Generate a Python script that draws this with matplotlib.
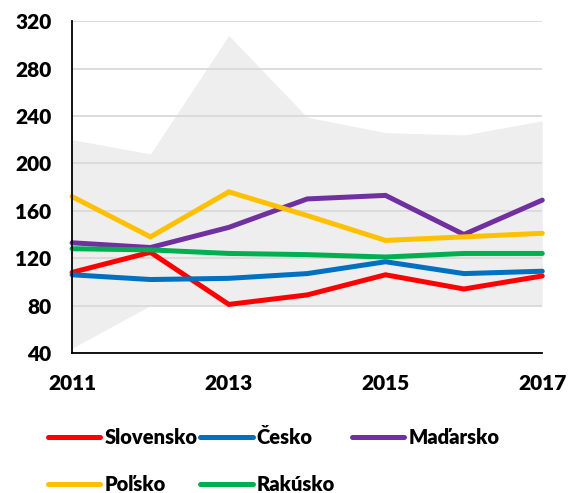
import matplotlib
matplotlib.use("Agg")
import matplotlib.pyplot as plt

years = [2011, 2012, 2013, 2014, 2015, 2016, 2017]
band_low = [44, 80, 80, 80, 80, 80, 80]
band_high = [220, 208, 308, 239, 226, 224, 236]

slovensko = [108, 125, 81, 89, 106, 94, 105]
cesko = [106, 102, 103, 107, 117, 107, 109]
madarsko = [133, 129, 146, 170, 173, 140, 169]
polsko = [172, 138, 176, 156, 135, 138, 141]
rakusko = [128, 127, 124, 123, 121, 124, 124]

series_names = ["Slovensko", "Česko", "Maďarsko", "Poľsko", "Rakúsko"]
series_values = [slovensko, cesko, madarsko, polsko, rakusko]
colors = ["#FF0000", "#0070C0", "#7030A0", "#FFC000", "#00B050"]

y_ticks = [40, 80, 120, 160, 200, 240, 280, 320]
x_ticks = [2011, 2013, 2015, 2017]

plt.rcParams['font.family'] = ['Lato', 'DejaVu Sans']
FS = 15
LFS = 14.5
WT = "heavy"

fig = plt.figure(figsize=(5.72, 4.93), dpi=100)
ax = fig.add_axes([0.126, 0.284, 0.822, 0.673])

ax.fill_between(years, band_low, band_high, color="#EEEEEE", lw=0, zorder=1)
handles = []
for name, vals, c in zip(series_names, series_values, colors):
    ln, = ax.plot(years, vals, color=c, lw=3.6, solid_capstyle='round',
                  solid_joinstyle='miter', zorder=3, clip_on=False, label=name)
    handles.append(ln)

ax.set_xlim(2011, 2017)
ax.set_ylim(40, 320)
ax.set_yticks(y_ticks)
ax.set_xticks(x_ticks)
ax.yaxis.grid(True, color="#D9D9D9", lw=1.3, zorder=2)
ax.set_axisbelow(False)
for gl in ax.get_ygridlines():
    gl.set_zorder(2)
for s in ["top", "right"]:
    ax.spines[s].set_visible(False)
for s in ["left", "bottom"]:
    ax.spines[s].set_color("black")
    ax.spines[s].set_linewidth(1.3)
    ax.spines[s].set_zorder(4)
ax.tick_params(length=0, labelsize=FS, pad=15)
for lab in ax.get_xticklabels() + ax.get_yticklabels():
    lab.set_fontweight(WT)

cols = [[0, 3], [1, 4], [2]]
col_x = [0.084, 0.35, 0.615]
for cx, idx in zip(col_x, cols):
    fig.legend([handles[i] for i in idx], [series_names[i] for i in idx],
               loc="upper left", bbox_to_anchor=(cx, 0.131),
               frameon=False, handlelength=2.6, handletextpad=0.2,
               labelspacing=1.35, borderaxespad=0, borderpad=0,
               prop={"size": LFS, "weight": WT})

fig.savefig("out.png", dpi=100)
